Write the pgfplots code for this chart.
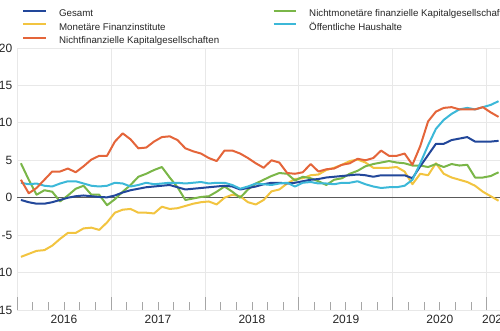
\documentclass[border=0pt]{standalone}
\usepackage{fontspec}
\setmainfont{Liberation Sans}
\usepackage{pgfplots}
\usepackage{pgfplotstable}
\pgfplotsset{compat=1.18}
\definecolor{cges}{HTML}{22479A}
\definecolor{cmfi}{HTML}{F2C440}
\definecolor{cnfk}{HTML}{E4653A}
\definecolor{cnmf}{HTML}{7AB648}
\definecolor{coeh}{HTML}{3CB8D8}
\pgfplotstableread{
x ges mfi nfk nmf oeh
0.5 -0.3 -7.9 2.4 4.6 2.0
1.5 -0.6 -7.5 0.6 2.4 1.8
2.5 -0.8 -7.1 1.3 0.4 1.9
3.5 -0.8 -7.0 2.4 1.0 1.6
4.5 -0.6 -6.4 3.5 0.8 1.5
5.5 -0.3 -5.5 3.5 -0.5 1.9
6.5 0.0 -4.7 3.9 0.3 2.2
7.5 0.2 -4.7 3.4 1.2 2.2
8.5 0.3 -4.1 4.2 1.6 1.9
9.5 0.2 -4.0 5.1 0.4 1.6
10.5 0.1 -4.3 5.6 0.4 1.5
11.5 0.05 -3.3 5.6 -1.0 1.6
12.5 0.3 -2.0 7.5 -0.2 2.0
13.5 0.7 -1.6 8.6 0.8 1.9
14.5 1.0 -1.5 7.8 1.7 1.5
15.5 1.2 -2.0 6.6 2.8 1.7
16.5 1.4 -2.0 6.7 3.2 2.0
17.5 1.5 -2.1 7.5 3.7 1.8
18.5 1.6 -1.2 8.1 4.1 1.9
19.5 1.7 -1.5 8.2 2.7 2.0
20.5 1.4 -1.4 7.7 1.4 2.0
21.5 1.1 -1.1 6.6 -0.3 1.9
22.5 1.2 -0.8 6.2 -0.1 2.0
23.5 1.3 -0.6 5.9 0.1 2.1
24.5 1.4 -0.5 5.3 0.2 1.9
25.5 1.5 -0.9 4.9 0.8 2.0
26.5 1.6 0.0 6.3 1.5 2.0
27.5 1.5 0.4 6.3 0.8 1.7
28.5 1.1 0.2 5.9 0.0 1.2
29.5 1.3 -0.6 5.3 1.1 1.5
30.5 1.5 -0.9 4.6 1.9 1.9
31.5 1.8 -0.3 4.0 2.4 1.8
32.5 2.0 0.85 5.0 2.9 1.7
33.5 2.0 1.1 4.7 3.3 1.9
34.5 1.9 1.9 3.3 3.2 2.0
35.5 2.0 2.5 3.2 2.3 1.5
36.5 2.2 2.6 3.4 2.8 2.0
37.5 2.4 3.0 4.5 2.6 2.1
38.5 2.5 3.1 3.5 2.2 1.9
39.5 2.7 3.7 3.8 1.7 1.9
40.5 2.8 4.0 3.9 2.4 1.8
41.5 2.9 4.4 4.4 2.6 2.0
42.5 3.0 4.9 4.6 3.2 2.0
43.5 3.1 5.1 5.2 3.6 2.2
44.5 3.0 4.7 5.0 4.2 1.8
45.5 2.8 4.0 5.3 4.5 1.5
46.5 3.0 4.0 6.3 4.7 1.3
47.5 3.0 4.0 5.6 4.9 1.4
48.5 3.0 4.1 5.6 4.7 1.4
49.5 3.0 3.5 5.9 4.6 1.6
50.5 2.6 1.8 4.4 4.3 2.4
51.5 4.2 3.2 6.9 4.3 4.6
52.5 5.7 3.0 10.2 4.1 7.0
53.5 7.2 4.6 11.5 4.5 9.2
54.5 7.2 3.2 12.0 4.1 10.4
55.5 7.7 2.7 12.1 4.5 11.2
56.5 7.9 2.4 11.8 4.3 11.8
57.5 8.1 2.1 11.8 4.4 12.0
58.5 7.5 1.6 11.8 2.7 11.8
59.5 7.5 0.8 12.1 2.7 12.1
60.5 7.5 0.2 11.4 2.9 12.4
61.5 7.6 -0.4 10.8 3.4 12.9
}\data
\begin{document}
\begin{tikzpicture}
\path[use as bounding box, clip] (0pt,0pt) rectangle (375pt,247.5pt);
\begin{axis}[
  at={(12.75pt,15pt)}, anchor=south west, scale only axis,
  width=387.6pt, height=196.5pt,
  xmin=0, xmax=66, ymin=-15, ymax=20,
  axis lines*=left, axis line style={draw=none},
  ytick={-15,-10,...,20},
  ymajorgrids, grid style={black!9, line width=0.6pt},
  major tick length=0pt,
  xtick={6,18,30,42,54,61.1}, xticklabels={2016,2017,2018,2019,2020,2021},
  minor xtick={2,4,...,64}, minor tick length=6pt, tick align=inside,
  extra x ticks={0,12,24,36,48,60}, extra x tick labels={},
  extra x tick style={xmajorgrids=true, major tick length=9.75pt},
  tick style={black!35, line width=0.6pt},
  tick label style={font=\fontsize{9}{10}\selectfont, text=black!85},
  /pgf/number format/assume math mode=true,
  legend columns=2,
  legend cell align=left,
  legend image code/.code={\draw[#1, line width=1.5pt] (0pt,2.5pt) -- (17pt,2.5pt);},
  legend style={at={(0.0105,1.148)}, anchor=north west, draw=none, fill=none,
    inner sep=0pt, outer sep=0pt, font=\fontsize{7.3}{8}\selectfont, text=black!85,
    row sep=3.1pt, nodes={inner sep=0pt, text height=5.5pt, text depth=1.5pt},
    /tikz/every odd column/.append style={column sep=9pt},
    /tikz/every even column/.append style={column sep=40pt}},
  every axis plot/.append style={line width=1.5pt, line join=round},
]
\addplot[forget plot, black!65, line width=0.8pt] coordinates {(0,0) (66,0)};
\addplot[forget plot, cmfi] table[x=x, y=mfi] {\data};
\addplot[forget plot, cnmf] table[x=x, y=nmf] {\data};
\addplot[forget plot, cges] table[x=x, y=ges] {\data};
\addplot[forget plot, coeh] table[x=x, y=oeh] {\data};
\addplot[forget plot, cnfk] table[x=x, y=nfk] {\data};
\addlegendimage{cges}\addlegendentry{Gesamt}
\addlegendimage{cnmf}\addlegendentry{Nichtmonetäre finanzielle Kapitalgesellschaften}
\addlegendimage{cmfi}\addlegendentry{Monetäre Finanzinstitute}
\addlegendimage{coeh}\addlegendentry{Öffentliche Haushalte}
\addlegendimage{cnfk}\addlegendentry{Nichtfinanzielle Kapitalgesellschaften}
\end{axis}
\end{tikzpicture}
\end{document}
